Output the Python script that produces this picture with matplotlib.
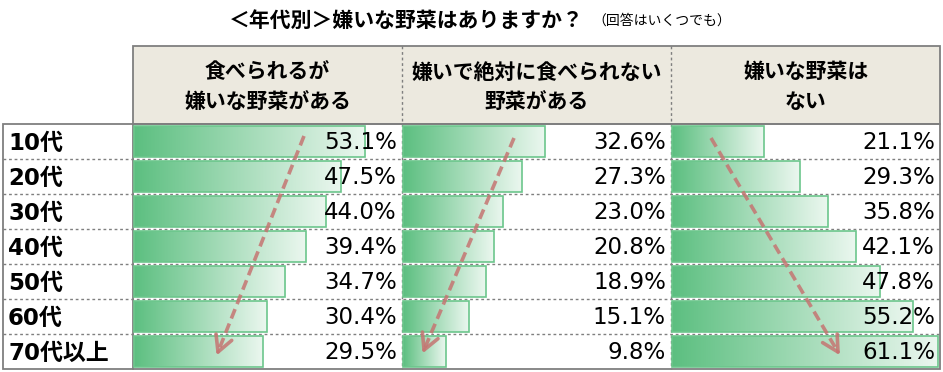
import numpy as np
import matplotlib
matplotlib.use("Agg")
import matplotlib.pyplot as plt
from matplotlib.colors import LinearSegmentedColormap
from matplotlib.patches import Rectangle

plt.rcParams['font.family'] = ['DejaVu Sans', 'Noto Sans CJK JP']

# data
age_groups = ['10代', '20代', '30代', '40代', '50代', '60代', '70代以上']
dislike_but_eat = [53.1, 47.5, 44.0, 39.4, 34.7, 30.4, 29.5]
cannot_eat = [32.6, 27.3, 23.0, 20.8, 18.9, 15.1, 9.8]
no_dislike = [21.1, 29.3, 35.8, 42.1, 47.8, 55.2, 61.1]
column_titles = ['食べられるが\n嫌いな野菜がある',
                 '嫌いで絶対に食べられない\n野菜がある',
                 '嫌いな野菜は\nない']
title_main = '＜年代別＞嫌いな野菜はありますか？'
title_note = '（回答はいくつでも）'

# layout in pixels
W, H = 943, 372
LEFT, LABEL_END = 3, 133
col_edges = [133, 402, 671, 940]
HEAD_TOP, DATA_TOP, ROW_H = 46, 124, 35
DATA_BOTTOM = DATA_TOP + ROW_H * len(age_groups)

GRAY = '#7f7f7f'
HEAD_BG = '#ecE9df'
BAR_EDGE = '#6cc68c'
ARROW = '#c57572'
cmap = LinearSegmentedColormap.from_list('bar', ['#5cbf80', '#ebf7ef'])
gradient = np.linspace(0, 1, 256).reshape(1, -1)

fig = plt.figure(figsize=(W / 100, H / 100), dpi=100)

# base layer: table frame, header, labels
base = fig.add_axes([0, 0, 1, 1], zorder=0)
base.set_xlim(0, W)
base.set_ylim(H, 0)
base.axis('off')

base.add_patch(Rectangle((LABEL_END, HEAD_TOP), col_edges[-1] - LABEL_END, DATA_TOP - HEAD_TOP,
                         facecolor=HEAD_BG, edgecolor=GRAY, lw=1.3))
base.add_patch(Rectangle((LEFT, DATA_TOP), col_edges[-1] - LEFT, DATA_BOTTOM - DATA_TOP,
                         facecolor='none', edgecolor=GRAY, lw=1.3))
base.plot([LABEL_END, LABEL_END], [DATA_TOP, DATA_BOTTOM], color=GRAY, lw=1.3)
for x in col_edges[1:-1]:
    base.plot([x, x], [HEAD_TOP, DATA_BOTTOM], color=GRAY, lw=1, ls=(0, (2, 2)))
for k in range(1, len(age_groups)):
    y = DATA_TOP + k * ROW_H
    base.plot([LEFT, col_edges[-1]], [y, y], color=GRAY, lw=1, ls=(0, (2, 2)))

base.text(229, 20, title_main, fontsize=15, fontweight='bold', va='center', ha='left',
          family='Noto Sans CJK JP')
base.text(592, 21, title_note, fontsize=10, va='center', ha='left', family='Noto Sans CJK JP')

for j, t in enumerate(column_titles):
    cx = (col_edges[j] + col_edges[j + 1]) / 2
    for line, y in zip(t.split('\n'), [72, 102]):
        base.text(cx, y, line, fontsize=15, fontweight='bold', ha='center', va='center',
                  family='Noto Sans CJK JP')

for i, lab in enumerate(age_groups):
    base.text(8, DATA_TOP + (i + 0.5) * ROW_H + 1.5, lab, fontsize=16.5, fontweight='bold',
              ha='left', va='center')

# bars
for j, vals in enumerate([dislike_but_eat, cannot_eat, no_dislike]):
    x0, x1 = col_edges[j], col_edges[j + 1]
    ax = fig.add_axes([x0 / W, 1 - DATA_BOTTOM / H, (x1 - x0) / W, (DATA_BOTTOM - DATA_TOP) / H],
                      zorder=1)
    for i, v in enumerate(vals):
        ax.imshow(gradient, cmap=cmap, extent=(0, v, i + 0.43, i - 0.43), aspect='auto',
                  interpolation='bicubic')
        ax.add_patch(Rectangle((0, i - 0.43), v, 0.86, fill=False, edgecolor=BAR_EDGE, lw=1.2))
        ax.text(0.981, i + 0.03, f'{v:.1f}%', transform=ax.get_yaxis_transform(),
                ha='right', va='center', fontsize=16.5)
    ax.set_xlim(-0.3, 61.5)
    ax.set_ylim(len(vals) - 0.5, -0.5)
    ax.axis('off')

# trend arrows
top = fig.add_axes([0, 0, 1, 1], zorder=2)
top.set_xlim(0, W)
top.set_ylim(H, 0)
top.axis('off')
arrows = [((304, 136), (218, 352)), ((514, 138), (424, 350)), ((711, 138), (838, 352))]
for (xs, ys), (xe, ye) in arrows:
    top.plot([xs, xe], [ys, ye], color=ARROW, lw=2.6, ls=(0, (2.8, 1.5)), alpha=0.85,
             solid_capstyle='butt')
    d = np.array([xs - xe, ys - ye], dtype=float)
    d /= np.hypot(*d)
    for ang in (np.deg2rad(28), -np.deg2rad(28)):
        r = np.array([[np.cos(ang), -np.sin(ang)], [np.sin(ang), np.cos(ang)]]) @ d
        top.plot([xe, xe + 18 * r[0]], [ye, ye + 18 * r[1]], color=ARROW, lw=2.6, alpha=0.85,
                 solid_capstyle='round')

fig.savefig('out.png', dpi=100)
